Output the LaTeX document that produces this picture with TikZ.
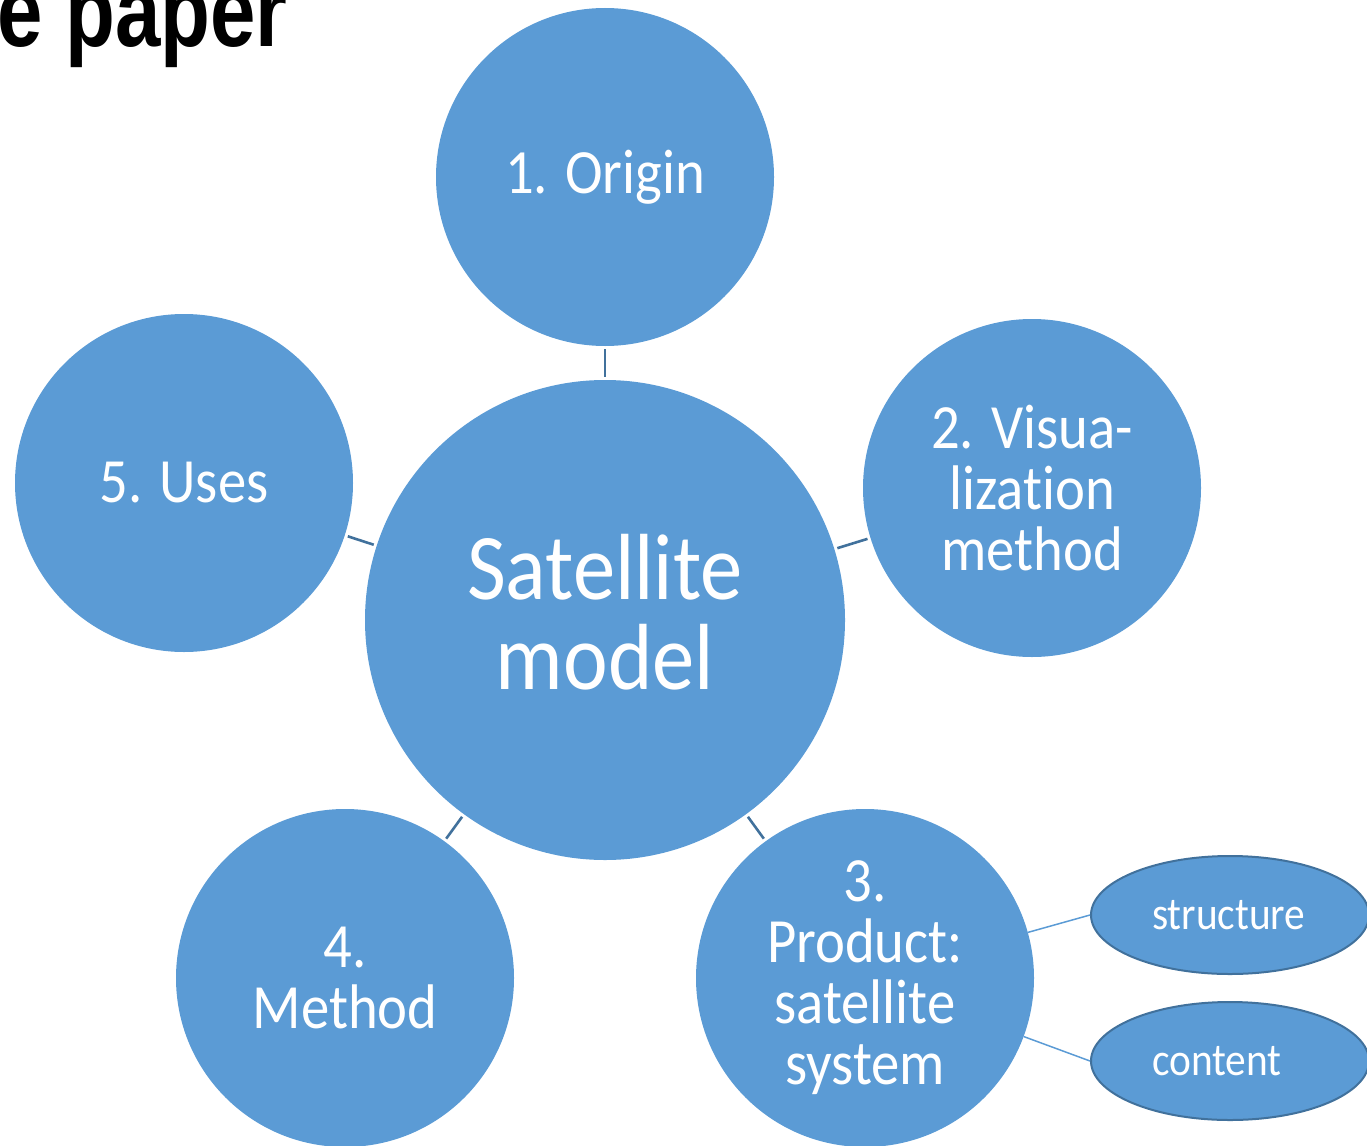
\documentclass[tikz,border=0pt]{standalone}
\usepackage{fontspec}
\setmainfont{Carlito}[FakeStretch=0.9, Ligatures=NoCommon]
\newfontfamily\titlefont{Liberation Sans}[FakeStretch=0.8]
\usetikzlibrary{shapes.geometric}
\definecolor{bluefill}{HTML}{5B9BD5}
\definecolor{blueline}{HTML}{41719C}
\tikzset{
  topic/.style={circle, fill=bluefill, draw=none, minimum size=338pt, inner sep=0pt,
    text=white, align=center, font=\fontsize{63}{61}\selectfont},
  hub/.style={circle, fill=bluefill, draw=none, minimum size=480pt, inner sep=0pt,
    text=white, align=center, text depth=16pt, font=\fontsize{94}{90}\selectfont},
  leaf/.style={ellipse, fill=bluefill, draw=blueline, line width=2pt, minimum width=278pt,
    minimum height=118pt, inner sep=0pt, text=white, text width=156pt, align=left,
    font=\fontsize{46}{46}\selectfont},
  spoke/.style={draw=blueline, line width=2.6pt, shorten >=3pt, shorten <=3pt},
  twig/.style={draw=bluefill, line width=1.5pt}
}
\begin{document}
\begin{tikzpicture}[x=1pt,y=-1pt]
\useasboundingbox (0,0) rectangle (1367,1145);
\clip (0,0) rectangle (1367,1145);
\node[anchor=base east, inner sep=0pt, text=black] (title) at (288,47)
  {\titlefont\bfseries\fontsize{102}{102}\selectfont e paper};
\node[hub] (sat) at (605,620) {Satellite\\model};
\node[topic] (orig) at (605,177) {1. Origin};
\node[topic] (vis) at (1032,488) {2. Visua-\\lization\\method};
\node[topic] (uses) at (184,483) {5. Uses};
\node[topic] (meth) at (345,978) {4.\\Method};
\node[topic] (prod) at (865,978) {3.\\Product:\\satellite\\system};
\node[leaf] (struc) at (1230,915) {structure};
\node[leaf] (cont) at (1230,1061) {content};
\draw[spoke] (sat) -- (orig);
\draw[spoke] (sat) -- (vis);
\draw[spoke] (sat) -- (uses);
\draw[spoke] (sat) -- (meth);
\draw[spoke] (sat) -- (prod);
\draw[twig] (prod) -- (struc.west);
\draw[twig] (prod) -- (cont.west);
\end{tikzpicture}
\end{document}
